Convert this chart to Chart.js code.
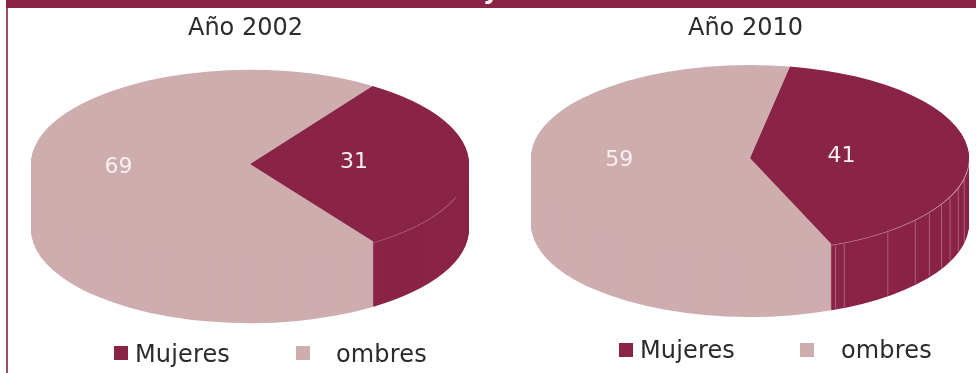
<!DOCTYPE html>
<html lang="es">
<head>
<meta charset="utf-8">
<title>Año 2002 / Año 2010</title>
<script src="https://cdn.jsdelivr.net/npm/chart.js@4/dist/chart.umd.min.js"></script>
<style>
    html, body { margin: 0; padding: 0; background: #fff; }
    body { position: relative; width: 976px; height: 373px; overflow: hidden; font-family: 'DejaVu Sans', sans-serif; }
    #topBar { position: absolute; left: 6px; top: 0; width: 970px; height: 8px; background: #8a2446; overflow: hidden; }
    #topBar span { position: absolute; left: 477px; top: -21px; color: #fff; font: bold 24px/24px 'DejaVu Sans', sans-serif; }
    #leftLine { position: absolute; left: 6px; top: 8px; width: 2px; height: 365px; background: #a04a68; }
    canvas { position: absolute; top: 8px; }
    #chart2002 { left: 8px; }
    #chart2010 { left: 515px; }
    .legendMark { position: absolute; width: 14px; height: 14px; }
    .legendText { position: absolute; font-size: 24px; line-height: 28px; color: #2b2b2b; white-space: pre; letter-spacing: 0.15px; }
</style>
</head>
<body>
<div id="topBar"><span>y</span></div>
<div id="leftLine"></div>
<canvas id="chart2002" width="475" height="332"></canvas>
<canvas id="chart2010" width="461" height="332"></canvas>
<div id="legends"></div>
<script>
const categories = ['Mujeres', 'ombres']
const colors = ['#8a2446', '#ceadaf']
const values2002 = [31, 69]
const values2010 = [41, 59]

// squash the round pie into a tilted disc and extrude it for the wall
const disc3d = {
    id: 'disc3d',
    applyTilt(chart, ctx, offsetY) {
        const o = chart.options.plugins.disc3d
        const arc = chart.getDatasetMeta(0).data[0]
        const top = chart.canvas.offsetTop
        const left = chart.canvas.offsetLeft
        ctx.translate(o.centerX - left, o.centerY - top + offsetY)
        ctx.scale(1, o.tilt)
        ctx.translate(-arc.x, -arc.y)
    },
    beforeDatasetsDraw(chart) {
        const ctx = chart.ctx
        const o = chart.options.plugins.disc3d
        const arcs = chart.getDatasetMeta(0).data
        for (let d = o.depth; d >= 1; d--) {
            ctx.save()
            this.applyTilt(chart, ctx, d)
            arcs.forEach((arc) => arc.draw(ctx))
            ctx.restore()
        }

        // faint streaks and rim on the dark slice wall
        const arc = arcs[0]
        ctx.save()
        ctx.strokeStyle = o.streakColor
        ctx.lineWidth = 1
        o.streaks.forEach((deg) => {
            const a = (deg * Math.PI) / 180
            const x = o.centerX - chart.canvas.offsetLeft + arc.outerRadius * Math.cos(a)
            const y = o.centerY - chart.canvas.offsetTop + arc.outerRadius * Math.sin(a) * o.tilt
            ctx.beginPath()
            ctx.moveTo(x, y + 2)
            ctx.lineTo(x, y + o.depth - 1)
            ctx.stroke()
        })
        ctx.restore()

        ctx.save()
        this.applyTilt(chart, ctx, 1)
        ctx.strokeStyle = o.rimColor
        ctx.lineWidth = 1.2
        ctx.beginPath()
        ctx.arc(arc.x, arc.y, arc.outerRadius, o.rimStart, arc.endAngle)
        ctx.stroke()
        ctx.restore()
    },
    beforeDatasetDraw(chart) {
        chart.ctx.save()
        this.applyTilt(chart, chart.ctx, 0)
    },
    afterDatasetDraw(chart) {
        chart.ctx.restore()
    },
    afterDatasetsDraw(chart) {
        const ctx = chart.ctx
        const o = chart.options.plugins.disc3d
        const dataset = chart.data.datasets[0]
        chart.getDatasetMeta(0).data.forEach((arc, i) => {
            const mid = (arc.startAngle + arc.endAngle) / 2
            const r = arc.outerRadius * o.labelRadius[i]
            ctx.save()
            ctx.fillStyle = '#f7f0f2'
            ctx.font = "22px 'DejaVu Sans', sans-serif"
            ctx.textAlign = 'center'
            ctx.textBaseline = 'middle'
            ctx.fillText(
                dataset.data[i],
                o.centerX - chart.canvas.offsetLeft + r * Math.cos(mid),
                o.centerY - chart.canvas.offsetTop + r * Math.sin(mid) * o.tilt + o.labelShiftY[i]
            )
            ctx.restore()
        })
    },
}

function createDisc(canvasId, title, values, rotation, disc) {
    const ctx = document.getElementById(canvasId).getContext('2d')
    new Chart(ctx, {
        type: 'pie',
        data: {
            labels: categories,
            datasets: [
                {
                    data: values,
                    backgroundColor: colors,
                    borderWidth: 0,
                    radius: 219,
                    clip: false,
                },
            ],
        },
        options: {
            responsive: false,
            animation: false,
            rotation: rotation,
            layout: { padding: 0 },
            plugins: {
                legend: { display: false },
                tooltip: { enabled: false },
                title: {
                    display: true,
                    text: title,
                    color: '#2b2b2b',
                    font: { family: "'DejaVu Sans', sans-serif", size: 24, weight: 'normal' },
                    padding: { top: 6, bottom: 10 },
                },
                disc3d: disc,
            },
        },
        plugins: [disc3d],
    })
}

function createLegend(items) {
    const container = document.getElementById('legends')
    categories.forEach((category, i) => {
        const mark = document.createElement('div')
        mark.className = 'legendMark'
        mark.style.left = items.markX[i] + 'px'
        mark.style.top = items.markY + 'px'
        mark.style.background = colors[i]
        container.appendChild(mark)

        const text = document.createElement('div')
        text.className = 'legendText'
        text.style.left = items.textX[i] + 'px'
        text.style.top = items.textY + 'px'
        text.textContent = category
        container.appendChild(text)
    })
}

createDisc('chart2002', 'Año 2002', values2002, 34, {
    centerX: 250,
    centerY: 164,
    tilt: 0.43,
    depth: 65,
    labelRadius: [0.475, 0.6],
    labelShiftY: [-2, 3],
    rimStart: 0.35,
    rimColor: 'rgba(240, 210, 220, 0.35)',
    streakColor: 'rgba(240, 210, 220, 0)',
    streaks: [],
})
createDisc('chart2010', 'Año 2010', values2010, 10.5, {
    centerX: 750,
    centerY: 158,
    tilt: 0.425,
    depth: 66,
    labelRadius: [0.42, 0.6],
    labelShiftY: [2, -3],
    rimStart: 0.02,
    rimColor: 'rgba(245, 215, 225, 0.7)',
    streakColor: 'rgba(235, 190, 205, 0.4)',
    streaks: [67, 64.5, 51, 41, 35, 29, 24, 18, 12],
})

createLegend({ markX: [114, 296], markY: 346, textX: [135, 336], textY: 340 })
createLegend({ markX: [619, 800], markY: 343, textX: [640, 841], textY: 336 })
</script>
</body>
</html>
